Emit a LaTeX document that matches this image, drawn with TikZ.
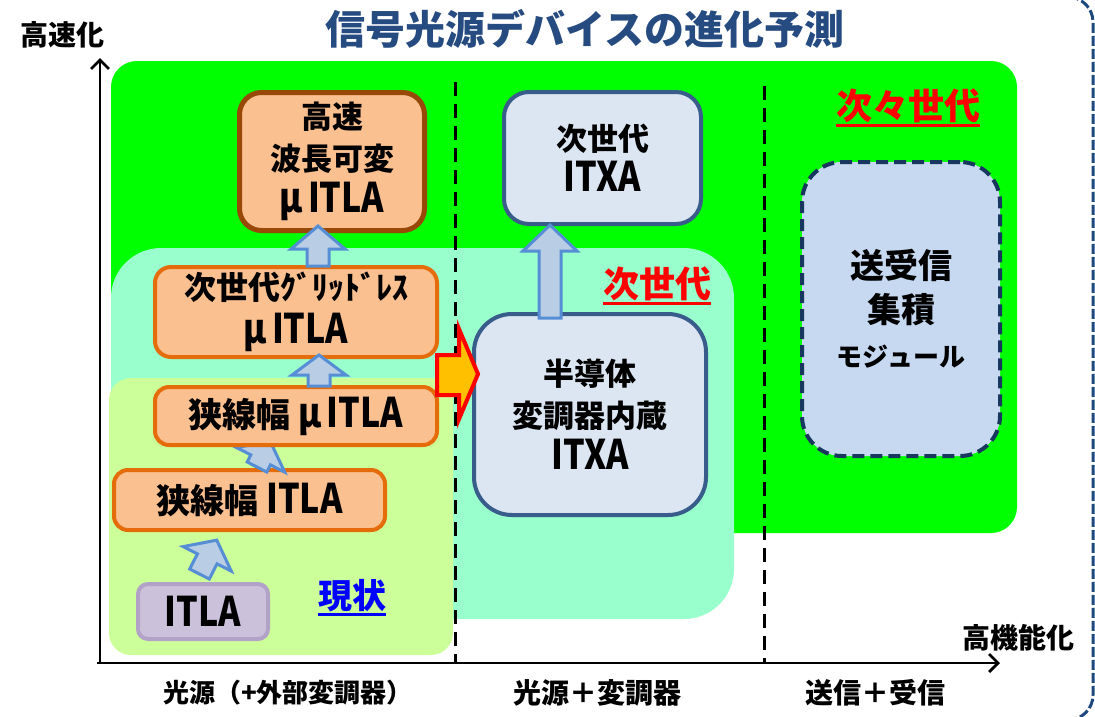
\documentclass[tikz,border=0pt]{standalone}
\usepackage{fontspec}
\setmainfont{Noto Sans CJK JP}
\usetikzlibrary{arrows.meta,calc}
\definecolor{rgreen}{HTML}{00FF00}
\definecolor{raqua}{HTML}{99FFCC}
\definecolor{rlime}{HTML}{CCFF99}
\definecolor{orfill}{HTML}{FAC090}
\definecolor{orline}{HTML}{E46C0A}
\definecolor{brline}{HTML}{984807}
\definecolor{pufill}{HTML}{CCC1DA}
\definecolor{puline}{HTML}{B3A2C7}
\definecolor{blfill}{HTML}{DCE6F2}
\definecolor{blline}{HTML}{385D8A}
\definecolor{mofill}{HTML}{C6D9F1}
\definecolor{moline}{HTML}{17375E}
\definecolor{arfill}{HTML}{B9CDE5}
\definecolor{arline}{HTML}{558ED5}
\definecolor{yel}{HTML}{FFC000}
\definecolor{titlecol}{HTML}{264B80}
\definecolor{framecol}{HTML}{1F497D}
\newcommand\fsz[2]{\fontsize{#1}{#2}\selectfont}
\newcommand\tallt[1]{\scalebox{1}[1.2]{#1}}
\newcommand\mysmu{μ\hspace{5pt}}
\begin{document}
\begin{tikzpicture}[x=1pt,y=-1pt,
  every node/.style={font=\bfseries, inner sep=0pt},
  boxbase/.style={draw, line width=4, align=center, text=black},
  orangebox/.style={boxbase, fill=orfill, draw=orline, rounded corners=14},
  brownbox/.style={boxbase, fill=orfill, draw=brline, line width=5, rounded corners=22},
  purplebox/.style={boxbase, fill=pufill, draw=puline, rounded corners=10},
  bluebox/.style={boxbase, fill=blfill, draw=blline},
  modbox/.style={boxbase, fill=mofill, draw=moline, dash pattern=on 12pt off 6pt, rounded corners=40},
  barrowsty/.style={fill=arfill, draw=arline, line width=3, line join=miter},
  axis/.style={line width=2.8, -{Straight Barb[length=9pt,width=18pt]}},
  divider/.style={line width=3, dash pattern=on 14pt off 8pt},
  pics/barrow/.style args={#1/#2}{code={
    \draw[barrowsty] (-11,0) -- (-11,{#2-#1}) -- (-27,{#2-#1}) -- (0,{-#1})
      -- (27,{#2-#1}) -- (11,{#2-#1}) -- (11,0) -- cycle;}}
]
\useasboundingbox (0,0) rectangle (1095,716);

% background regions
\fill[rgreen, rounded corners=26] (111,61) rectangle (1017,533);
\fill[raqua, rounded corners=50] (111,248) rectangle (734,619);
\fill[rlime, rounded corners=22] (109,378) rectangle (453,655);

% dividers and axes
\coordinate (orig) at (100,663);
\coordinate (ytop) at (100,58);
\coordinate (xend) at (1000,663);
\coordinate (xstart) at (97,663);
\coordinate (d1t) at (455,82);
\coordinate (d1b) at (455,663);
\coordinate (d2t) at (764,86);
\coordinate (d2b) at (764,663);
\draw[divider] (d1t) -- (d1b);
\draw[divider] (d2t) -- (d2b);
\draw[axis] (orig) -- (ytop);
\draw[axis] (xstart) -- (xend);

% right frame
\begin{scope}
\clip (0,0) rectangle (1095,716);
\draw[framecol, line width=3, dash pattern=on 10pt off 3pt, rounded corners=25]
  (1030,-3) -- (1093,-3) -- (1093,720) -- (1030,720);
\end{scope}

% texts
\node[text=titlecol, font=\bfseries\fsz{40}{44}] (title) at (585,29) {信号光源デバイスの進化予測};
\node[font=\bfseries\fsz{28}{30}] (yl) at (62,35) {高速化};
\node[font=\bfseries\fsz{28}{30}] (xl) at (1018,638) {高機能化};
\node[font=\bfseries\fsz{26}{30}] (c1) at (288,693) {光源（+外部変調器）};
\node[font=\bfseries\fsz{28}{30}] (c2) at (597,693) {光源＋変調器};
\node[font=\bfseries\fsz{28}{30}] (c3) at (875,693) {送信＋受信};

\node[text=red, font=\bfseries\fsz{36}{40}] (nn) at (908,106) {次々世代};
\draw[red, line width=2.5] ($(nn.south west)+(0,2)$) -- ($(nn.south east)+(0,2)$);
\node[text=red, font=\bfseries\fsz{36}{40}] (nx) at (657,284) {次世代};
\draw[red, line width=2.5] ($(nx.south west)+(0,2)$) -- ($(nx.south east)+(0,2)$);
\node[text=blue, font=\bfseries\fsz{34}{40}] (gj) at (352,596) {現状};
\draw[blue, line width=2.5] ($(gj.south west)+(0,2)$) -- ($(gj.south east)+(0,2)$);

% left column boxes and arrows
\node[purplebox, font=\bfseries\fsz{34}{40}, minimum width=130, minimum height=55] (itla) at (203,611.5)
  {\tallt{ITLA}};
\pic[rotate=-27] at ($(itla.north)+(-3.5,-8)$) {barrow=38/21};
\node[orangebox, font=\bfseries\fsz{34}{40}, minimum width=271, minimum height=60] (nitla) at (249.5,500)
  {狭線幅 \tallt{ITLA}};
\pic[rotate=-27] at ($(nitla.north)+(7.5,-1)$) {barrow=29/21};
\node[orangebox, font=\bfseries\fsz{34}{40}, minimum width=282, minimum height=58] (nmitla) at (296,416)
  {狭線幅 \tallt{\mysmu ITLA}};
\node[orangebox, font=\bfseries\fsz{32}{44}, rounded corners=16, minimum width=282, minimum height=90] (glitla) at (296,312)
  {次世代ｸﾞﾘｯﾄﾞﾚｽ\\\fsz{34}{44}\tallt{\mysmu ITLA}};
\pic at ($(nmitla.north)+(23,1)$) {barrow=31/20};
\node[brownbox, font=\bfseries\fsz{31}{42}, minimum width=185, minimum height=138] (hsitla) at (332,161.5)
  {高速\\波長可変\\\fsz{34}{43}\tallt{\mysmu ITLA}};
\pic at ($(glitla.north)+(22,1)$) {barrow=40/23};

% middle column
\node[bluebox, font=\bfseries\fsz{31}{42}, rounded corners=38, minimum width=232, minimum height=201] (smitxa) at (590,414.5)
  {半導体\\変調器内蔵\\\fsz{34}{42}\tallt{ITXA}};
\node[bluebox, font=\bfseries\fsz{31}{41}, rounded corners=25, minimum width=197, minimum height=132] (ngitxa) at (602.5,158)
  {次世代\\\fsz{34}{41}\tallt{ITXA}};
\pic at ($(smitxa.north)+(-40,6)$) {barrow=93/26};

% right column
\node[modbox, font=\bfseries\fsz{34}{44}, minimum width=198, minimum height=294] (module) at (901,309)
  {送受信\\集積\\\fsz{26}{44}モジュール};

% big transition arrow
\draw[fill=yel, draw=red, line width=4, line join=miter]
  (437,355) -- (459,355) -- (459,329) -- (478,374) -- (459,419) -- (459,395) -- (437,395) -- cycle;
\end{tikzpicture}
\end{document}
